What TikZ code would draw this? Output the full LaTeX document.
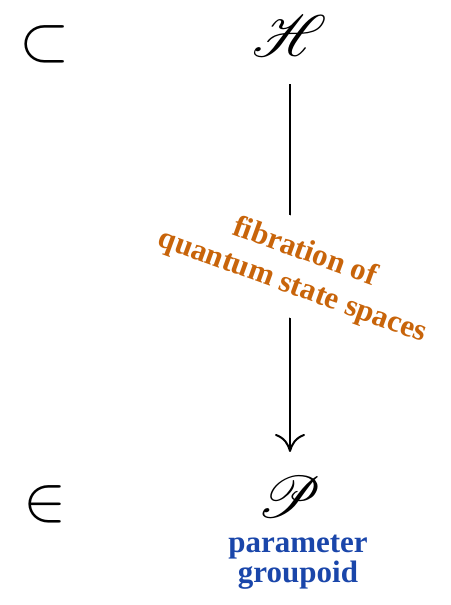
\documentclass[tikz,border=0pt]{standalone}
\usepackage{fontspec}
\setmainfont{Liberation Serif}
\usepackage{mathrsfs}
\usepackage{xcolor}
\usepackage{tikz}
\usetikzlibrary{arrows.meta, positioning}

\definecolor{fiborange}{RGB}{200,100,10}
\definecolor{grpblue}{RGB}{26,70,170}

\begin{document}
\begin{tikzpicture}[
    x=0.5pt, y=-0.5pt,
    space/.style={inner sep=0pt, scale=1.18, transform shape, font=\fontsize{24.88}{30}\selectfont},
    rel/.style={inner sep=0pt, scale=1.3, transform shape, font=\fontsize{24.88}{30}\selectfont},
    tag/.style={align=center, font=\fontsize{15.5}{15}\selectfont\bfseries},
    arrow/.style={-{Computer Modern Rightarrow[length=9pt, width=15pt]}, line width=1pt}
]
    \useasboundingbox (0,0) rectangle (450,605);

    % total space
    \node[space] (hilb) at (290,36) {$\mathscr{H}$};
    \node[rel] (sub) at (45,44) {$\subset$};

    % base
    \node[space] (par) at (290,497) {$\mathscr{P}$};
    \node[rel] (elem) at (45,504) {$\in$};

    % base label
    \node[tag, text=grpblue, below=5pt of par, xshift=4pt] (parlabel) {parameter\\groupoid};

    % projection
    \draw[arrow, shorten <=13.5pt, shorten >=12pt] (hilb) -- node[tag, text=fiborange, fill=white, rotate=-20, inner sep=8pt, xshift=4.5pt, font=\fontsize{15.5}{18}\selectfont\bfseries] (fiblabel) {fibration of\\quantum state spaces} (par);

\end{tikzpicture}
\end{document}
